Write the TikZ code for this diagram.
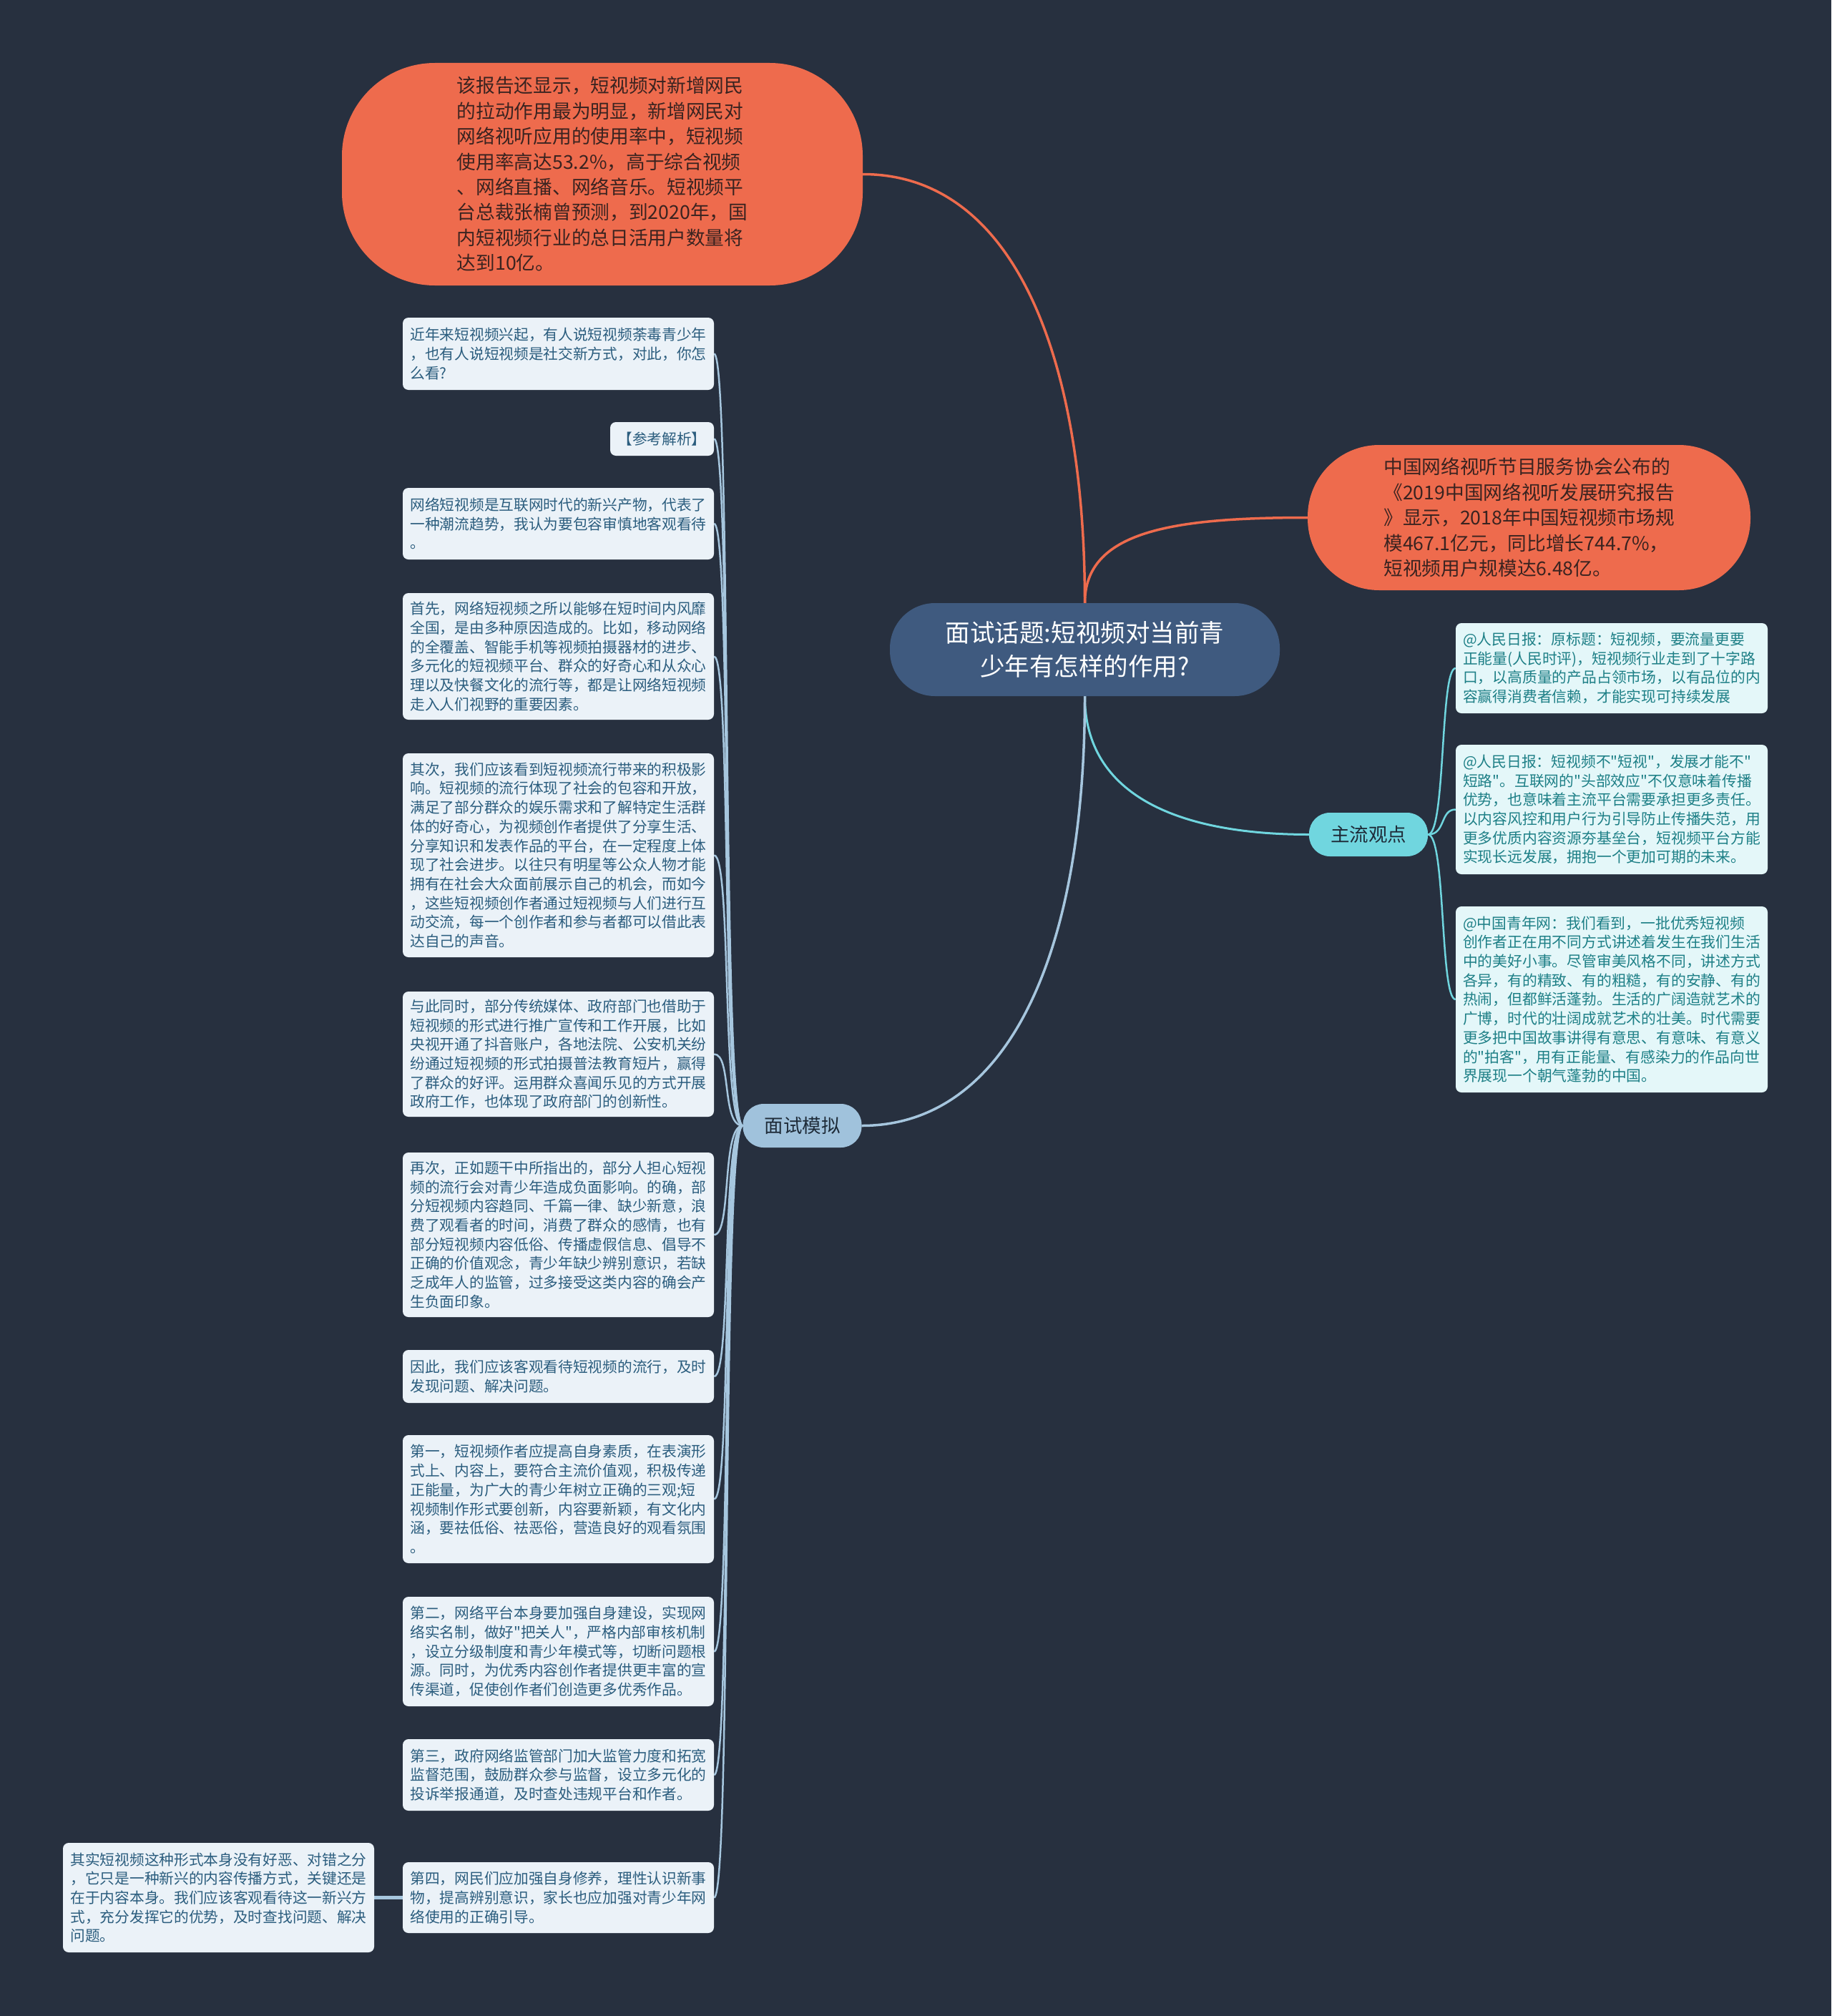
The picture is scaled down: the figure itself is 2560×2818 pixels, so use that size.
\documentclass[tikz,border=0pt]{standalone}
\usepackage{fontspec}
\newfontfamily\cjk{Noto Sans CJK SC}
\definecolor{bgcol}{HTML}{27303F}
\definecolor{orng}{HTML}{EE6B4D}
\definecolor{otext}{HTML}{3A2320}
\definecolor{cfill}{HTML}{3F5A7F}
\definecolor{zfill}{HTML}{70D6DF}
\definecolor{mfill}{HTML}{A0C2DC}
\definecolor{mline}{HTML}{A6C6DE}
\definecolor{lfill}{HTML}{EBF2F8}
\definecolor{ltext}{HTML}{2B5D7E}
\definecolor{rfill}{HTML}{E4F7F9}
\definecolor{rtext}{HTML}{1D7F86}
\definecolor{labtext}{HTML}{1E2B38}
\pgfdeclarelayer{bg}
\pgfsetlayers{bg,main}
\begin{document}
\begin{tikzpicture}[x=1pt,y=-1pt,
  obub/.style={fill=orng,text=otext,align=left,inner sep=0pt,font=\cjk\fontsize{26.7}{35.4}\selectfont},
  cnode/.style={fill=cfill,text=white,align=center,inner sep=0pt,minimum width=545pt,minimum height=130pt,rounded corners=63pt,font=\cjk\fontsize{34.5}{46.7}\selectfont},
  lab/.style={text=labtext,inner sep=0pt,minimum width=166pt,minimum height=61pt,rounded corners=29pt,font=\cjk\fontsize{26.5}{30}\selectfont},
  lbox/.style={fill=lfill,text=ltext,rounded corners=8pt,align=left,inner sep=0pt,minimum width=435pt,font=\cjk\fontsize{20.7}{26.7}\selectfont},
  rbox/.style={fill=rfill,text=rtext,rounded corners=8pt,align=left,inner sep=0pt,minimum width=436pt,font=\cjk\fontsize{20.8}{26.7}\selectfont},
  oline/.style={draw=orng,line width=3.5pt},
  zline/.style={draw=zfill,line width=3pt},
  mainm/.style={draw=mline,line width=3.5pt},
  subm/.style={draw=mline,line width=2.5pt},
  subz/.style={draw=zfill,line width=2.5pt}]

\node[obub,minimum width=728pt,minimum height=311pt,rounded corners=130pt] (top) at (842,243.5) {该报告还显示，短视频对新增网民\\的拉动作用最为明显，新增网民对\\网络视听应用的使用率中，短视频\\使用率高达53.2\%，高于综合视频\\、网络直播、网络音乐。短视频平\\台总裁张楠曾预测，到2020年，国\\内短视频行业的总日活用户数量将\\达到10亿。};

\node[obub,minimum width=619pt,minimum height=203pt,rounded corners=100pt] (ro) at (2137.5,723.5) {中国网络视听节目服务协会公布的\\《2019中国网络视听发展研究报告\\》显示，2018年中国短视频市场规\\模467.1亿元，同比增长744.7\%，\\短视频用户规模达6.48亿。};

\node[cnode] (c) at (1516.5,908) {面试话题:短视频对当前青\\少年有怎样的作用?};

\node[lab,fill=zfill] (zl) at (1913,1166.5) {主流观点};
\node[lab,fill=mfill] (ms) at (1121.5,1573.5) {面试模拟};

\node[rbox,minimum height=126pt] (r1) at (2253,934) {@人民日报：原标题：短视频，要流量更要\\正能量(人民时评)，短视频行业走到了十字路\\口，以高质量的产品占领市场，以有品位的内\\容赢得消费者信赖，才能实现可持续发展};
\node[rbox,minimum height=181pt] (r2) at (2253,1131.5) {@人民日报：短视频不"短视"，发展才能不"\\短路"。互联网的"头部效应"不仅意味着传播\\优势，也意味着主流平台需要承担更多责任。\\以内容风控和用户行为引导防止传播失范，用\\更多优质内容资源夯基垒台，短视频平台方能\\实现长远发展，拥抱一个更加可期的未来。};
\node[rbox,minimum height=260pt] (r3) at (2253,1397) {@中国青年网：我们看到，一批优秀短视频\\创作者正在用不同方式讲述着发生在我们生活\\中的美好小事。尽管审美风格不同，讲述方式\\各异，有的精致、有的粗糙，有的安静、有的\\热闹，但都鲜活蓬勃。生活的广阔造就艺术的\\广博，时代的壮阔成就艺术的壮美。时代需要\\更多把中国故事讲得有意思、有意味、有意义\\的"拍客"，用有正能量、有感染力的作品向世\\界展现一个朝气蓬勃的中国。};

\node[lbox,minimum height=101pt] (b1) at (780.5,494.5) {近年来短视频兴起，有人说短视频荼毒青少年\\，也有人说短视频是社交新方式，对此，你怎\\么看?};
\node[lbox,minimum width=145pt,minimum height=47pt,align=center] (b2) at (925.5,613.5) {【参考解析】};
\node[lbox,minimum height=100pt] (b3) at (780.5,732) {网络短视频是互联网时代的新兴产物，代表了\\一种潮流趋势，我认为要包容审慎地客观看待\\。};
\node[lbox,minimum height=177pt] (b4) at (780.5,917.5) {首先，网络短视频之所以能够在短时间内风靡\\全国，是由多种原因造成的。比如，移动网络\\的全覆盖、智能手机等视频拍摄器材的进步、\\多元化的短视频平台、群众的好奇心和从众心\\理以及快餐文化的流行等，都是让网络短视频\\走入人们视野的重要因素。};
\node[lbox,minimum height=285pt] (b5) at (780.5,1195.5) {其次，我们应该看到短视频流行带来的积极影\\响。短视频的流行体现了社会的包容和开放，\\满足了部分群众的娱乐需求和了解特定生活群\\体的好奇心，为视频创作者提供了分享生活、\\分享知识和发表作品的平台，在一定程度上体\\现了社会进步。以往只有明星等公众人物才能\\拥有在社会大众面前展示自己的机会，而如今\\，这些短视频创作者通过短视频与人们进行互\\动交流，每一个创作者和参与者都可以借此表\\达自己的声音。};
\node[lbox,minimum height=175pt] (b6) at (780.5,1473.5) {与此同时，部分传统媒体、政府部门也借助于\\短视频的形式进行推广宣传和工作开展，比如\\央视开通了抖音账户，各地法院、公安机关纷\\纷通过短视频的形式拍摄普法教育短片，赢得\\了群众的好评。运用群众喜闻乐见的方式开展\\政府工作，也体现了政府部门的创新性。};
\node[lbox,minimum height=230pt] (b7) at (780.5,1726) {再次，正如题干中所指出的，部分人担心短视\\频的流行会对青少年造成负面影响。的确，部\\分短视频内容趋同、千篇一律、缺少新意，浪\\费了观看者的时间，消费了群众的感情，也有\\部分短视频内容低俗、传播虚假信息、倡导不\\正确的价值观念，青少年缺少辨别意识，若缺\\乏成年人的监管，过多接受这类内容的确会产\\生负面印象。};
\node[lbox,minimum height=74pt] (b8) at (780.5,1924) {因此，我们应该客观看待短视频的流行，及时\\发现问题、解决问题。};
\node[lbox,minimum height=179pt] (b9) at (780.5,2095.5) {第一，短视频作者应提高自身素质，在表演形\\式上、内容上，要符合主流价值观，积极传递\\正能量，为广大的青少年树立正确的三观;短\\视频制作形式要创新，内容要新颖，有文化内\\涵，要祛低俗、祛恶俗，营造良好的观看氛围\\。};
\node[lbox,minimum height=153pt] (b10) at (780.5,2308.5) {第二，网络平台本身要加强自身建设，实现网\\络实名制，做好"把关人"，严格内部审核机制\\，设立分级制度和青少年模式等，切断问题根\\源。同时，为优秀内容创作者提供更丰富的宣\\传渠道，促使创作者们创造更多优秀作品。};
\node[lbox,minimum height=100pt] (b11) at (780.5,2481) {第三，政府网络监管部门加大监管力度和拓宽\\监督范围，鼓励群众参与监督，设立多元化的\\投诉举报通道，及时查处违规平台和作者。};
\node[lbox,minimum height=99pt] (b12) at (780.5,2652.5) {第四，网民们应加强自身修养，理性认识新事\\物，提高辨别意识，家长也应加强对青少年网\\络使用的正确引导。};
\node[lbox,minimum height=153pt] (L) at (305.5,2652.5) {其实短视频这种形式本身没有好恶、对错之分\\，它只是一种新兴的内容传播方式，关键还是\\在于内容本身。我们应该客观看待这一新兴方\\式，充分发挥它的优势，及时查找问题、解决\\问题。};

\begin{pgfonlayer}{bg}
\fill[bgcol] (0,0) rectangle (2560,2818);
\useasboundingbox (0,0) rectangle (2560,2818);
\draw[oline] (c.north) .. controls +(0,-343) and +(212,0) .. (top.east);
\draw[oline] (c.north) .. controls +(0,-100) and +(-190,0) .. (ro.west);
\draw[zline] (c.south) .. controls +(0,140) and +(-180,0) .. (zl.west);
\draw[mainm] (c.south) .. controls +(0,377) and +(196,0) .. (ms.east);
\foreach \r in {r1,r2,r3}
  \draw[subz] (zl.east) .. controls +(25,0) and +(-22,0) .. (\r.west);
\foreach \b in {b1,b2,b3,b4,b5,b6,b7,b8,b9,b10,b11,b12}
  \draw[subm] (ms.west) .. controls +(-30,0) and +(25,0) .. (\b.east);
\draw[draw=mline,line width=5pt] (b12.west) -- (L.east);
\end{pgfonlayer}
\end{tikzpicture}
\end{document}
